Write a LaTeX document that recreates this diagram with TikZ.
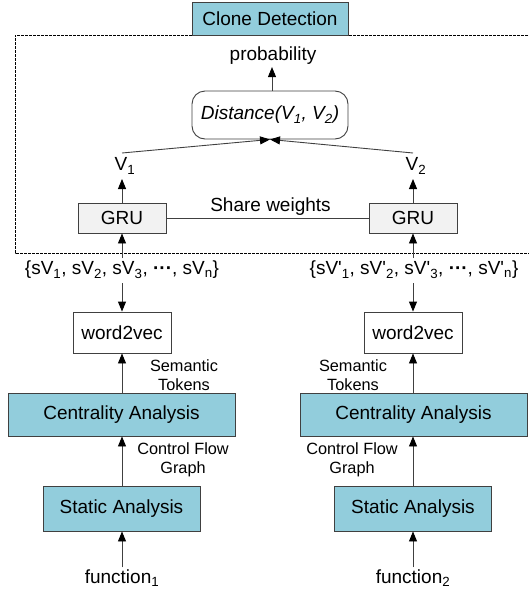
\documentclass[tikz,border=0pt]{standalone}
\usepackage{fontspec}
\setmainfont{Liberation Sans}
\usetikzlibrary{arrows.meta}
\definecolor{boxblue}{HTML}{92CDDC}
\definecolor{boxgray}{HTML}{F2F2F2}
\definecolor{edgegray}{HTML}{404040}
\definecolor{linegray}{HTML}{404040}
\newcommand{\pr}{\textquotesingle}
\tikzset{
  mainfont/.style={font=\fontsize{19}{22}\selectfont},
  lblfont/.style={font=\fontsize{16.3}{19}\selectfont, align=center, inner sep=0pt},
  bluebox/.style={draw=edgegray, line width=0.9pt, fill=boxblue, mainfont, inner sep=0pt},
  graybox/.style={draw=edgegray, line width=0.9pt, fill=boxgray, mainfont, inner sep=0pt, minimum width=88pt, minimum height=30pt},
  whitebox/.style={draw=edgegray, line width=0.9pt, fill=white, mainfont, inner sep=0pt, minimum width=98pt, minimum height=41pt},
  plain/.style={mainfont, inner sep=2pt},
  arr/.style={draw=linegray, line width=0.9pt, -{Triangle[length=10pt,width=8pt,color=black]}},
}
\begin{document}
\begin{tikzpicture}[x=1pt,y=-1pt]
\useasboundingbox (0,0) rectangle (528,592);
% dashed frame
\draw[black, line width=0.8pt, dash pattern=on 3pt off 1pt] (532,35) -- (15,35) -- (15,253) -- (532,253);

\node[bluebox, minimum width=156pt, minimum height=33pt] (clone) at (270,18.5) {Clone Detection};
\node[plain] (prob) at (273,56) {probability};
\node[draw=edgegray, line width=0.9pt, fill=white, rounded corners=13pt, minimum width=156pt, minimum height=48pt, mainfont, inner sep=0pt] (dist) at (270,115) {\itshape Distance(V\textsubscript{1}, V\textsubscript{2})};
\draw[arr] ([xshift=2pt]dist.north) -- ([xshift=2pt]dist.north |- prob.south);

\node[plain, inner sep=0pt] (v1) at (125,166) {V\textsubscript{1}};
\node[plain, inner sep=0pt] (v2) at (416,166) {V\textsubscript{2}};
\coordinate (v1top) at (122,153);
\coordinate (v2top) at (413,153);
\coordinate (v1bot) at (122,179);
\coordinate (v2bot) at (413,179);
\draw[arr] (v1top) -- (dist.south);
\draw[arr] (v2top) -- (dist.south);

\node[graybox] (gru1) at (122,218) {GRU};
\node[graybox] (gru2) at (413,218) {GRU};
\draw[arr] (gru1.north) -- (v1bot);
\draw[arr] (gru2.north) -- (v2bot);
\draw[linegray, line width=0.9pt] (gru1.east) -- node[above, mainfont, text=black, inner sep=2pt, xshift=3pt] {Share weights} (gru2.west);

\node[plain] (seq1) at (122,270) {\{sV\textsubscript{1}, sV\textsubscript{2}, sV\textsubscript{3}, {\bfseries ···}, sV\textsubscript{n}\}};
\node[plain] (seq2) at (414,270) {\{sV\pr\textsubscript{1}, sV\pr\textsubscript{2}, sV\pr\textsubscript{3}, {\bfseries ···}, sV\pr\textsubscript{n}\}};
\coordinate (s1top) at (122,258);
\coordinate (s2top) at (413,258);
\coordinate (s1bot) at (122,283);
\coordinate (s2bot) at (413,283);
\draw[arr] (s1top) -- (gru1.south);
\draw[arr] (s2top) -- (gru2.south);

\node[whitebox] (w1) at (122,332.5) {word2vec};
\node[whitebox] (w2) at (413,332.5) {word2vec};
\draw[arr] (s1bot) -- (w1.north);
\draw[arr] (s2bot) -- (w2.north);

\node[bluebox, minimum width=227pt, minimum height=43pt] (c1) at (121.5,414.5) {Centrality Analysis};
\node[bluebox, minimum width=227pt, minimum height=43pt] (c2) at (413.5,414.5) {Centrality Analysis};
\draw[arr] (c1.north -| w1.south) -- (w1.south);
\draw[arr] (c2.north -| w2.south) -- (w2.south);
\node[lblfont] (st1) at (184,375) {Semantic\\Tokens};
\node[lblfont] (st2) at (353,375) {Semantic\\Tokens};

\node[bluebox, minimum width=157pt, minimum height=45pt] (a1) at (121.5,508.5) {Static Analysis};
\node[bluebox, minimum width=157pt, minimum height=45pt] (a2) at (413,508.5) {Static Analysis};
\draw[arr] (a1.north -| w1.south) -- (c1.south -| w1.south);
\draw[arr] (a2.north -| w2.south) -- (c2.south -| w2.south);
\node[lblfont] (cf1) at (183,460) {Control Flow\\Graph};
\node[lblfont] (cf2) at (352,460) {Control Flow\\Graph};

\node[plain] (f1) at (122,578) {function\textsubscript{1}};
\node[plain] (f2) at (413,578) {function\textsubscript{2}};
\draw[arr] (f1.north -| w1.south) -- (a1.south -| w1.south);
\draw[arr] (f2.north -| w2.south) -- (a2.south -| w2.south);
\end{tikzpicture}
\end{document}
